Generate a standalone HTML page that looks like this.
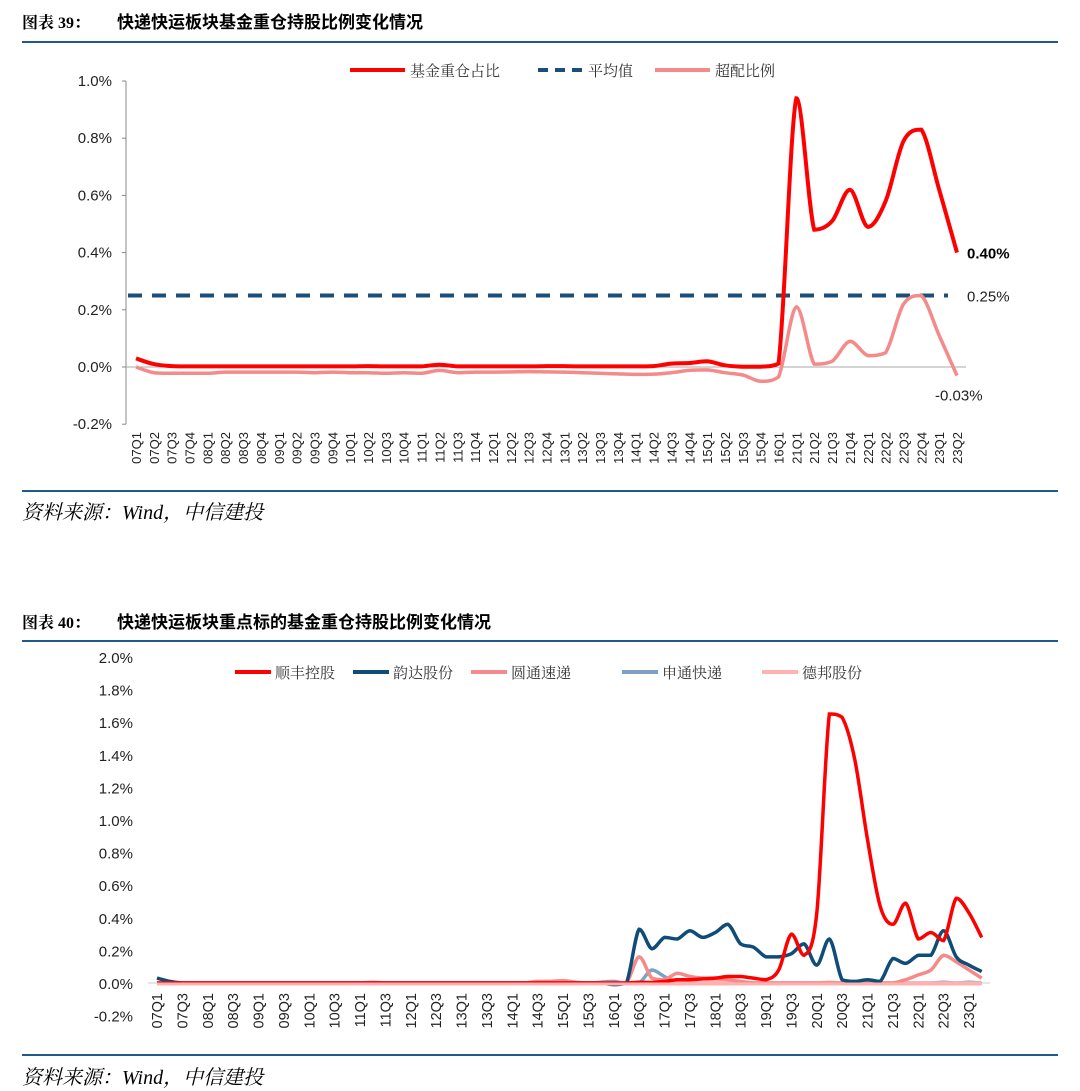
<!DOCTYPE html>
<html><head><meta charset="utf-8">
<style>
body{margin:0;background:#fff;width:1080px;height:1091px;overflow:hidden;font-family:"Liberation Sans","Noto Sans CJK SC",sans-serif;}
svg{position:absolute;left:0;top:0}
</style></head>
<body>
<svg width="1080" height="1091">
<g>
<text x="22" y="28" font-size="16" font-weight="bold" font-family="Liberation Serif,'Noto Serif CJK SC',serif">图表 39：</text>
<text x="117" y="28" font-size="17" font-weight="bold" font-family="'Noto Sans CJK SC',sans-serif">快递快运板块基金重仓持股比例变化情况</text>
<line x1="22" y1="42" x2="1058" y2="42" stroke="#1f5a8c" stroke-width="2"/>
<line x1="22" y1="491" x2="1058" y2="491" stroke="#1f5a8c" stroke-width="2"/>
<text x="22" y="519" font-size="20" font-style="italic" font-family="Liberation Serif,'Noto Serif CJK SC',serif">资料来源：Wind，中信建投</text>
</g>
<g id="c1"></g>
<g>
<text x="22" y="628" font-size="16" font-weight="bold" font-family="Liberation Serif,'Noto Serif CJK SC',serif">图表 40：</text>
<text x="117" y="628" font-size="17" font-weight="bold" font-family="'Noto Sans CJK SC',sans-serif">快递快运板块重点标的基金重仓持股比例变化情况</text>
<line x1="22" y1="641" x2="1058" y2="641" stroke="#1f5a8c" stroke-width="2"/>
<line x1="22" y1="1055" x2="1058" y2="1055" stroke="#1f5a8c" stroke-width="2"/>
<text x="22" y="1084" font-size="20" font-style="italic" font-family="Liberation Serif,'Noto Serif CJK SC',serif">资料来源：Wind，中信建投</text>
</g>
<g id="c2"></g>
</svg>
<script>
// ---- Chart 39 data ----
const cats1 = ["07Q1","07Q2","07Q3","07Q4","08Q1","08Q2","08Q3","08Q4","09Q1","09Q2","09Q3","09Q4","10Q1","10Q2","10Q3","10Q4","11Q1","11Q2","11Q3","11Q4","12Q1","12Q2","12Q3","12Q4","13Q1","13Q2","13Q3","13Q4","14Q1","14Q2","14Q3","14Q4","15Q1","15Q2","15Q3","15Q4","16Q1","21Q1","21Q2","21Q3","21Q4","22Q1","22Q2","22Q3","22Q4","23Q1","23Q2"];
const fundWeight = [0.03,0.01,0.003,0.002,0.002,0.002,0.002,0.002,0.002,0.002,0.002,0.002,0.002,0.003,0.002,0.002,0.002,0.008,0.002,0.002,0.002,0.002,0.002,0.003,0.003,0.002,0.002,0.002,0.002,0.003,0.012,0.014,0.02,0.006,0.001,0.001,0.012,0.94,0.48,0.51,0.62,0.49,0.58,0.79,0.83,0.62,0.40];
const avgWeight = 0.25;
const overWeight = [0.0,-0.02,-0.022,-0.022,-0.022,-0.018,-0.018,-0.018,-0.018,-0.018,-0.02,-0.018,-0.02,-0.02,-0.022,-0.02,-0.022,-0.012,-0.02,-0.018,-0.018,-0.017,-0.016,-0.017,-0.018,-0.02,-0.022,-0.024,-0.026,-0.025,-0.02,-0.012,-0.01,-0.02,-0.028,-0.05,-0.035,0.21,0.01,0.02,0.09,0.04,0.05,0.22,0.25,0.11,-0.03];
const ticks1 = [-0.2,0,0.2,0.4,0.6,0.8,1.0];
const tickLabels1 = ["-0.2%","0.0%","0.2%","0.4%","0.6%","0.8%","1.0%"];

// ---- Chart 40 data ----
const cats2 = [];
for (let y=7;y<=23;y++) for (let q=1;q<=4;q++) { if (y===23 && q>2) break; cats2.push((y<10?"0":"")+y+"Q"+q); }
const sfData = [0,0,0,0,0,0,0,0,0,0,0,0,0,0,0,0,0,0,0,0,0,0,0,0,0,0,0,0,0,0,0,0,0,0,0,0,0,0,0.005,0.003,0.01,0.02,0.02,0.025,0.03,0.04,0.04,0.03,0.02,0.08,0.30,0.17,0.43,1.65,1.63,1.37,0.88,0.47,0.36,0.49,0.27,0.31,0.26,0.52,0.43,0.28];
const ydData = [0.03,0.01,0,0,0,0,0,0,0,0,0,0,0,0,0,0,0,0,0,0,0,0,0,0,0,0,0,0,0,0,0,0,0,0,0,0,-0.01,0.0,0.33,0.21,0.28,0.27,0.32,0.28,0.31,0.36,0.24,0.22,0.16,0.16,0.18,0.24,0.11,0.27,0.02,0.01,0.02,0.01,0.15,0.12,0.17,0.17,0.32,0.16,0.11,0.07];
const ytData = [0,0,0,0,0,0,0,0,0,0,0,0,0,0,0,0,0,0.005,0,0,0,0,0,0,0,0,0,0,0,0,0.01,0.01,0.015,0.005,0,0,0,0,0.16,0.03,0.02,0.06,0.04,0.03,0.03,0.02,0.01,0.0,0,0,0,0,0,0,0,0,0,0,0,0.02,0.05,0.08,0.17,0.13,0.08,0.03];
const stData = [0,0,0,0,0,0,0,0,0,0,0,0,0,0,0,0,0,0,0,0,0,0,0,0,0,0,0,0,0,0,0,0,0,0,0,0.005,0.01,-0.005,0.0,0.08,0.04,0.0,0,0,0.005,0.01,0.005,0,0,0,0,0,0,0,0,0,0,0,0,0,0,0,0.005,0,0.005,0];
const dbData = [0,0,0,0,0,0,0,0,0,0,0,0,0,0,0,0,0,0,0,0,0,0,0,0,0,0,0,0,0,0,0,0,0,0,0,0,0,0,0,0,0,0,0,0,0.01,0.005,0.005,0,0,0,0,0,0,0.005,0,0,0,0,0,0,0,0,0,0,0,0];
const ticks2 = [-0.2,0,0.2,0.4,0.6,0.8,1.0,1.2,1.4,1.6,1.8,2.0];
const tickLabels2 = ["-0.2%","0.0%","0.2%","0.4%","0.6%","0.8%","1.0%","1.2%","1.4%","1.6%","1.8%","2.0%"];

const NS="http://www.w3.org/2000/svg";
function mk(parent,tag,attrs,text){const e=document.createElementNS(NS,tag);for(const k in attrs)e.setAttribute(k,attrs[k]);if(text!==undefined)e.textContent=text;parent.appendChild(e);return e;}
function clamp(v,a,b){const lo=Math.min(a,b),hi=Math.max(a,b);return Math.max(lo,Math.min(hi,v));}
function smooth(pts){let d="M"+pts[0][0].toFixed(1)+","+pts[0][1].toFixed(1);for(let i=0;i<pts.length-1;i++){const p0=pts[i-1]||pts[i],p1=pts[i],p2=pts[i+1],p3=pts[i+2]||p2;const t=6;
const c1y=clamp(p1[1]+(p2[1]-p0[1])/t,p1[1],p2[1]), c2y=clamp(p2[1]-(p3[1]-p1[1])/t,p1[1],p2[1]);
d+=" C"+(p1[0]+(p2[0]-p0[0])/t).toFixed(1)+","+c1y.toFixed(1)+" "+(p2[0]-(p3[0]-p1[0])/t).toFixed(1)+","+c2y.toFixed(1)+" "+p2[0].toFixed(1)+","+p2[1].toFixed(1);}return d;}

// ---- Chart 39 ----
(function(){
const g=document.getElementById('c1');
const x0=136, dx=(957-136)/(cats1.length-1);
const X=i=>x0+i*dx;
const Y=v=>367-v*(286/1.0);
const ax=mk(g,'line',{x1:126,y1:Y(1.0),x2:126,y2:Y(-0.2),stroke:'#888','stroke-width':1});


ticks1.forEach((t,i)=>{
 const tl=mk(g,'line',{x1:122,y1:Y(t),x2:126,y2:Y(t),stroke:'#888'});
 
 
 const tx=mk(g,'text',{x:112,y:Y(t)+5,'text-anchor':'end','font-size':15,fill:'#222'},tickLabels1[i]);
 
 
});
const zl=mk(g,'line',{x1:126,y1:Y(0),x2:966,y2:Y(0),stroke:'#aaa','stroke-width':1});


cats1.forEach((c,i)=>{
 const t=mk(g,'text',{transform:`translate(${X(i)+5},${432}) rotate(-90)`,'text-anchor':'end','font-size':13,fill:'#222'},c);
 
 
});
const avg=mk(g,'line',{x1:128,y1:Y(avgWeight),x2:948,y2:Y(avgWeight),stroke:'#1b4f7a','stroke-width':4,'stroke-dasharray':'14,10'});


const ow=mk(g,'path',{d:smooth(overWeight.map((v,i)=>[X(i),Y(v)])),fill:'none',stroke:'#f58a8a','stroke-width':3.5});


const fw=mk(g,'path',{d:smooth(fundWeight.map((v,i)=>[X(i),Y(v)])),fill:'none',stroke:'#ff0000','stroke-width':4});


const n=cats1.length-1;
const l1=mk(g,'text',{x:967,y:Y(fundWeight[n])+6,'font-size':15,'font-weight':'bold',fill:'#000'},(fundWeight[n]).toFixed(2)+"%");


const l2=mk(g,'text',{x:967,y:Y(avgWeight)+6,'font-size':15,fill:'#222'},avgWeight.toFixed(2)+"%");


const l3=mk(g,'text',{x:935,y:Y(overWeight[n])+25,'font-size':15,fill:'#222'},overWeight[n].toFixed(2)+"%");


const leg=[["基金重仓占比","#ff0000",350,55,""],["平均值","#1b4f7a",538,45,"10,7"],["超配比例","#f58a8a",655,55,""]];
leg.forEach(([t,c,x,w,da])=>{
 const e=mk(g,'g',{});
 
 
 mk(e,'line',{x1:x,y1:70,x2:x+w,y2:70,stroke:c,'stroke-width':4,'stroke-dasharray':da||'none'});
 mk(e,'text',{x:x+w+5,y:76,'font-size':15,fill:'#333','font-family':"'Noto Serif CJK SC',serif"},t);
});
})();

// ---- Chart 40 ----
(function(){
const g=document.getElementById('c2');
const x0=157, dx=(969-157)/64;
const X=i=>x0+i*dx;
const Y=v=>983-v*(326/2.0);
ticks2.forEach((t,i)=>{
 const tx=mk(g,'text',{x:133,y:Y(t)+6,'text-anchor':'end','font-size':15,fill:'#222'},tickLabels2[i]);
 
 
});
const zl=mk(g,'line',{x1:148,y1:Y(0),x2:990,y2:Y(0),stroke:'#ccc','stroke-width':1});


cats2.forEach((c,i)=>{
 if(i%2) return;
 const t=mk(g,'text',{transform:`translate(${X(i)+5},${993}) rotate(-90)`,'text-anchor':'end','font-size':14.5,fill:'#222'},c);
 
 
});
const series=[["申通快递",stData,"#7fa2c2","st-line"],["德邦股份",dbData,"#ffb0b0","db-line"],["圆通速递",ytData,"#f58a8a","yt-line"],["韵达股份",ydData,"#0f4c78","yd-line"],["顺丰控股",sfData,"#ff0000","sf-line"]];
series.forEach(([n,d,c,nm])=>{
 const p=mk(g,'path',{d:smooth(d.map((v,i)=>[X(i),Y(v)])),fill:'none',stroke:c,'stroke-width':3.5});
 
 
});
const pink=mk(g,'line',{x1:X(0),y1:Y(0)+1,x2:X(cats2.length-1),y2:Y(0)+1,stroke:'#ffb0b0','stroke-width':3});


const leg=[["顺丰控股","#ff0000",235],["韵达股份","#0f4c78",353],["圆通速递","#f58a8a",471],["申通快递","#7fa2c2",622],["德邦股份","#ffb0b0",762]];
leg.forEach(([t,c,x])=>{
 const e=mk(g,'g',{});
 
 
 mk(e,'line',{x1:x,y1:672,x2:x+36,y2:672,stroke:c,'stroke-width':4});
 mk(e,'text',{x:x+40,y:678,'font-size':15,fill:'#333','font-family':"'Noto Serif CJK SC',serif"},t);
});
})();
</script>
</body></html>
